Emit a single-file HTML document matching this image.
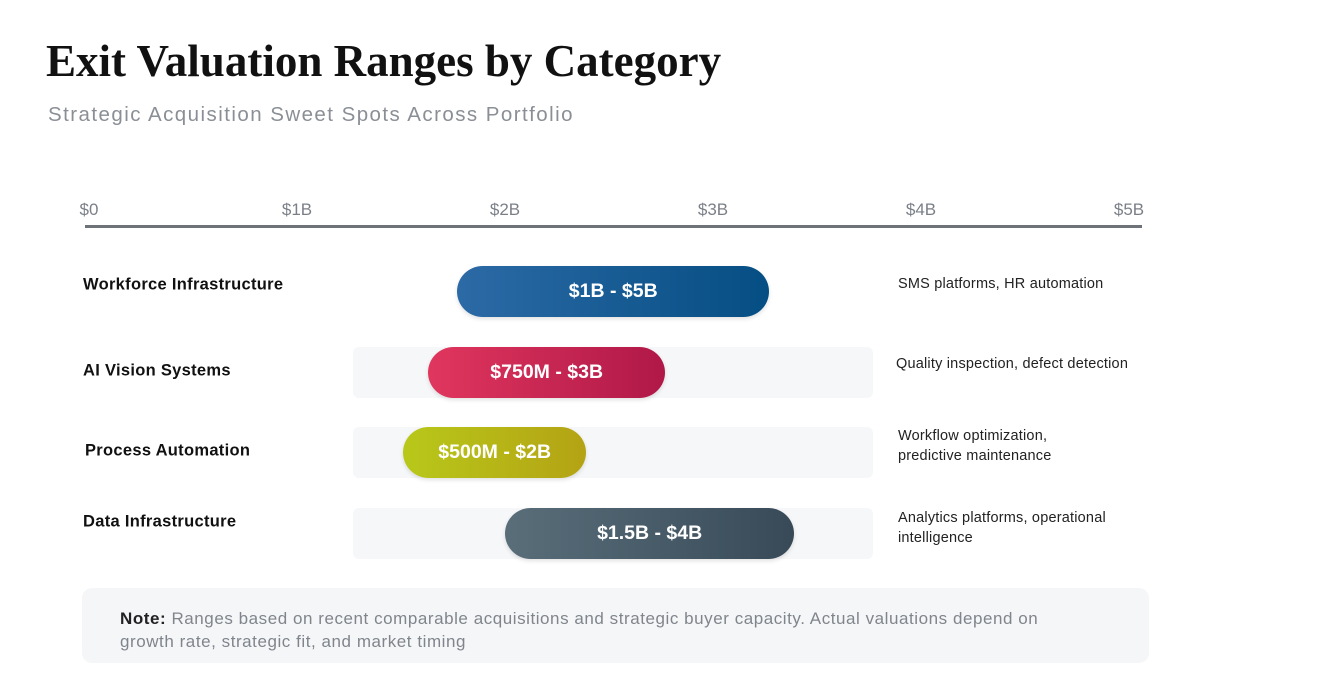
<!DOCTYPE html>
<html><head><meta charset="utf-8">
<style>
body{margin:0;width:1328px;height:700px;background:#fff;position:relative;overflow:hidden;font-family:"Liberation Sans",sans-serif}
.abs{position:absolute}
#title{left:46px;top:35px;font-family:"Liberation Serif",serif;font-weight:bold;font-size:45px;color:#111;letter-spacing:0px;white-space:nowrap}
#sub{left:48px;top:103px;font-size:20.5px;letter-spacing:1.45px;color:#8a8f96;white-space:nowrap}
.tick{top:200px;font-size:17px;color:#7b8088;transform:translateX(-50%)}
.lbl{font-size:16.5px;letter-spacing:0.3px;font-weight:bold;color:#111;transform:translateY(-50%);white-space:nowrap}
.desc{font-size:14.5px;letter-spacing:0.2px;color:#222;line-height:20px;transform:translateY(-50%);white-space:nowrap}
.track{background:#f6f7f9;border-radius:6px;height:51px}
.bar{height:51px;border-radius:26px;color:#fff;font-weight:bold;font-size:19.5px;display:flex;align-items:center;justify-content:center;box-shadow:0 2px 4px rgba(0,0,0,.12)}
#note{left:82px;top:588px;width:1067px;height:75px;background:#f5f6f8;border-radius:10px}
#notetext{left:120px;top:607px;width:1000px;font-size:17px;letter-spacing:0.55px;line-height:23px;color:#80858c;white-space:nowrap}
</style></head><body>
<div class="abs" id="title">Exit Valuation Ranges by Category</div>
<div class="abs" id="sub">Strategic Acquisition Sweet Spots Across Portfolio</div>
<div class="abs" style="left:85px;top:225px;width:1057px;height:3px;background:#6e737a"></div>
<div id="chart"></div>
<div class="abs" id="note"></div>
<div class="abs" id="notetext"><b style="color:#222">Note:</b> Ranges based on recent comparable acquisitions and strategic buyer capacity. Actual valuations depend on<br>growth rate, strategic fit, and market timing</div>
<script>
const tickValues=[0,1,2,3,4,5];
const tickLabels=["$0","$1B","$2B","$3B","$4B","$5B"];
const categories=["Workforce Infrastructure","AI Vision Systems","Process Automation","Data Infrastructure"];
const rangeLabels=["$1B - $5B","$750M - $3B","$500M - $2B","$1.5B - $4B"];
const barStart=[1.78,1.64,1.52,2.01];
const barEnd=[3.28,2.78,2.40,3.40];
const trackStart=[null,1.28,1.28,1.28];
const trackEnd=[null,3.78,3.78,3.78];
const descriptions=["SMS platforms, HR automation","Quality inspection, defect detection","Workflow optimization,<br>predictive maintenance","Analytics platforms, operational<br>intelligence"];
const gradients=[["#2c6aa6","#054e83"],["#e0365e","#b01848"],["#b8c81a","#b4a314"],["#5a6e7a","#384a58"]];
const labelOffset=[-6,-1,-1,-11];
const descOffset=[-7,-8,-6,-5];
const x=v=>87+v*208;
const rowY=i=>291+i*80.7;
const chart=document.getElementById('chart');
tickValues.forEach((v,i)=>{
  const t=document.createElement('div');
  
  
  t.className='abs tick';t.style.left=(x(v)+2)+'px';t.textContent=tickLabels[i];chart.appendChild(t);
});
categories.forEach((c,i)=>{
  const y=rowY(i);
  if(trackStart[i]!==null){
    const tr=document.createElement('div');
    
    
    tr.className='abs track';tr.style.left=x(trackStart[i])+'px';tr.style.width=(x(trackEnd[i])-x(trackStart[i]))+'px';tr.style.top=(y-25)+'px';chart.appendChild(tr);
  }
  const l=document.createElement('div');
  
  
  l.className='abs lbl';l.style.left=(i==2?85:83)+'px';l.style.top=(y+labelOffset[i])+'px';l.textContent=c;chart.appendChild(l);
  const b=document.createElement('div');
  
  
  b.className='abs bar';b.style.left=x(barStart[i])+'px';b.style.width=(x(barEnd[i])-x(barStart[i]))+'px';b.style.top=(y-25)+'px';
  b.style.background='linear-gradient(90deg,'+gradients[i][0]+','+gradients[i][1]+')';
  b.textContent=rangeLabels[i];chart.appendChild(b);
  const d=document.createElement('div');
  
  
  d.className='abs desc';d.style.left=(i==1?896:898)+'px';d.style.top=(y+descOffset[i])+'px';d.innerHTML=descriptions[i];chart.appendChild(d);
});
</script>
</body></html>
